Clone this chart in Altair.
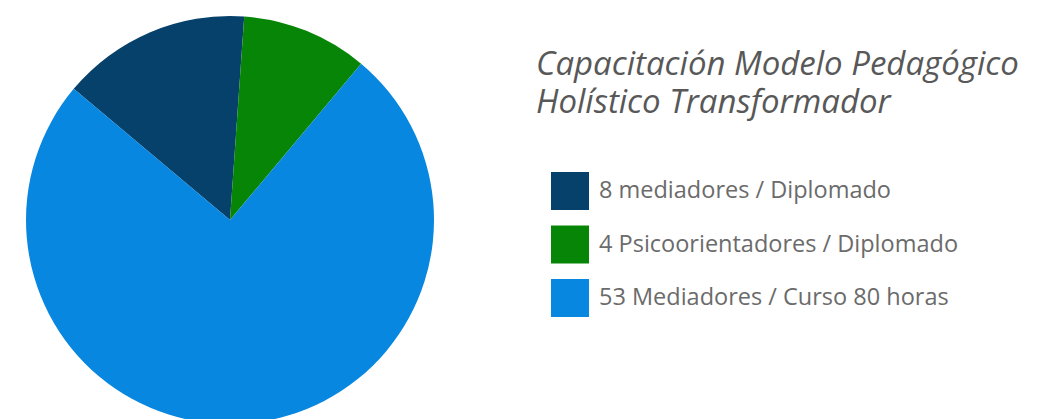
import altair as alt
import pandas as pd
import math

categories = [
    "8 mediadores / Diplomado",
    "4 Psicoorientadores / Diplomado",
    "53 Mediadores / Curso 80 horas",
]
shares = [15, 10, 75]
colors = ["#05416b", "#078507", "#0787df"]
title_lines = ["Capacitación Modelo Pedagógico", "Holístico Transformador"]

df = pd.DataFrame({"cat": categories, "share": shares, "ord": list(range(len(categories)))})

start = math.radians(-50)

pie = alt.Chart(df).mark_arc(radius=204, stroke=None).encode(
    x=alt.value(222),
    y=alt.value(212),
    theta=alt.Theta("share:Q", stack=True, scale=alt.Scale(range=[start, start + 2 * math.pi])),
    order=alt.Order("ord:Q", sort="ascending"),
    color=alt.Color(
        "cat:N",
        scale=alt.Scale(domain=categories, range=colors),
        sort=categories,
        legend=alt.Legend(
            title=None,
            orient="none",
            legendX=543,
            legendY=164,
            symbolType="square",
            symbolSize=1444,
            symbolStrokeWidth=0,
            symbolOpacity=1,
            labelFont="Open Sans",
            labelFontSize=23.5,
            labelColor="#6b6b6b",
            labelOffset=10,
            rowPadding=15.5,
            labelLimit=600,
            padding=0,
        ),
    ),
)

title = alt.Chart(pd.DataFrame({"t": ["\n".join(title_lines)]})).mark_text(
    align="left",
    baseline="alphabetic",
    font="Open Sans",
    fontStyle="italic",
    fontSize=33,
    color="#585858",
    lineBreak="\n",
    lineHeight=38,
).encode(
    x=alt.value(528),
    y=alt.value(67),
    text="t:N",
)

chart = alt.layer(pie, title).properties(
    width=1027,
    height=411,
    autosize=alt.AutoSizeParams(type="none"),
    padding=0,
).configure_view(stroke=None)

chart.save("out.html", embed_options={"renderer": "svg", "actions": False})
